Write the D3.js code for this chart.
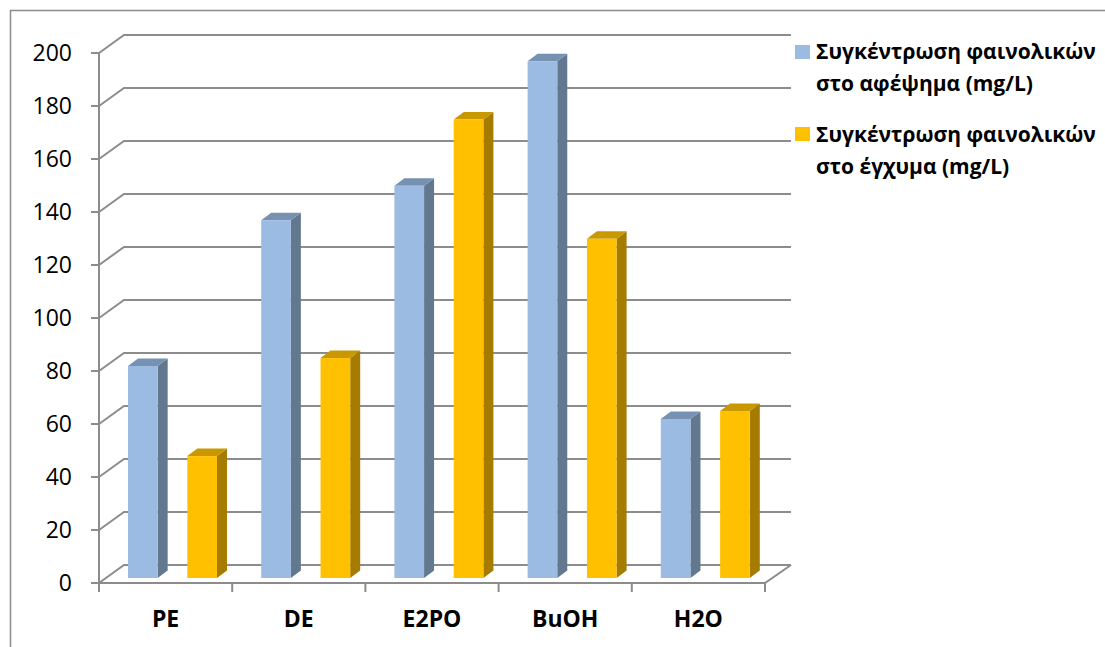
<!DOCTYPE html>
<html>
<head>
<meta charset="utf-8">
<script src="https://cdn.jsdelivr.net/npm/d3@7"></script>
<style>
  html, body { margin: 0; padding: 0; background: #fff; }
  svg { display: block; }
  text { font-family: "Open Sans", "Liberation Sans", sans-serif; fill: #000; }
</style>
</head>
<body>
<svg id="chart" width="1105" height="647"></svg>
<script>
// Phenolic concentration per extract (mg/L)
const categories = ["PE", "DE", "E2PO", "BuOH", "H2O"];
const seriesNames = [
  ["Συγκέντρωση φαινολικών", "στο αφέψημα (mg/L)"],
  ["Συγκέντρωση φαινολικών", "στο έγχυμα (mg/L)"]
];
const decoction = [80, 135, 148, 195, 60];
const infusion = [46, 83, 173, 128, 63];
const yTicks = [0, 20, 40, 60, 80, 100, 120, 140, 160, 180, 200];

const palette = [
  { front: "#9bbbe3", side: "#62788f", top: "#7791b3" },
  { front: "#ffc000", side: "#a67c00", top: "#c99800" }
];

const svg = d3.select("#chart");
const gridColor = "#8c8c8c";

// outer frame
svg.append("path")
  .attr("d", "M10.5,647 L10.5,10.5 L1105,10.5")
  .attr("fill", "none").attr("stroke", "#8c8c8c").attr("stroke-width", 1.5);

// plot geometry: front axis plane plus back wall offset
const x0 = 99, x1 = 765;
const wallDx = 25, wallDy = -18;
const y = d3.scaleLinear().domain([0, 200]).range([583, 53]);
const x = d3.scaleBand().domain(categories).range([x0, x1]);
const xs = d3.scaleBand().domain([0, 1]).range([22, 111]).paddingInner(0.5);

// bars sit part-way into the floor
const barShiftX = 7, barShiftY = -5;
const depthDx = 10, depthDy = -7.5;

const grid = svg.append("g");
yTicks.forEach(t => {
  const yy = y(t);
  grid.append("path")
    .attr("d", `M${x0},${yy} L${x0 + wallDx},${yy + wallDy} L${x1 + wallDx + 1},${yy + wallDy}`)
    .attr("fill", "none").attr("stroke", gridColor).attr("stroke-width", 2);
});
// floor front edge and right edge
grid.append("path")
  .attr("d", `M${x0},${y(0)} L${x1},${y(0)} L${x1 + wallDx + 1},${y(0) + wallDy}`)
  .attr("fill", "none").attr("stroke", gridColor).attr("stroke-width", 2);

// value axis
const axisG = svg.append("g");
axisG.append("line")
  .attr("x1", x0).attr("x2", x0).attr("y1", y(200)).attr("y2", y(0) + 1)
  .attr("stroke", gridColor).attr("stroke-width", 2);
yTicks.forEach(t => {
  axisG.append("line")
    .attr("x1", x0 - 8).attr("x2", x0).attr("y1", y(t)).attr("y2", y(t))
    .attr("stroke", gridColor).attr("stroke-width", 2);
  axisG.append("text")
    .attr("x", 72).attr("y", y(t)).attr("dy", "0.36em")
    .attr("text-anchor", "end")
    .style("font-size", "23px")
    .text(t);
});

// category axis ticks and labels
const catBounds = categories.map(c => x(c)).concat([x1]);
catBounds.forEach(b => {
  axisG.append("line")
    .attr("x1", b).attr("x2", b).attr("y1", y(0)).attr("y2", y(0) + 9)
    .attr("stroke", gridColor).attr("stroke-width", 2);
});
categories.forEach(c => {
  axisG.append("text")
    .attr("x", x(c) + x.bandwidth() / 2).attr("y", 627)
    .attr("text-anchor", "middle")
    .style("font-size", "23px").style("font-weight", "bold")
    .text(c);
});

// 3D bars
const bars = svg.append("g");
const seriesData = [decoction, infusion];
categories.forEach((c, i) => {
  seriesData.forEach((vals, s) => {
    const v = vals[i];
    const left = x(c) + xs(s) + barShiftX;
    const right = left + xs.bandwidth();
    const bottom = y(0) + barShiftY;
    const top = y(v) + barShiftY;
    const col = palette[s];
    const g = bars.append("g");
    g.append("path")
      .attr("d", `M${right},${bottom} L${right + depthDx},${bottom + depthDy} L${right + depthDx},${top + depthDy} L${right},${top} Z`)
      .attr("fill", col.side);
    g.append("path")
      .attr("d", `M${left},${top} L${left + depthDx},${top + depthDy} L${right + depthDx},${top + depthDy} L${right},${top} Z`)
      .attr("fill", col.top);
    g.append("rect")
      .attr("x", left).attr("y", top)
      .attr("width", right - left).attr("height", bottom - top)
      .attr("fill", col.front);
  });
});

// legend
const legend = svg.append("g");
const legendRows = [{ sq: 45, base: 59 }, { sq: 127, base: 141.5 }];
seriesNames.forEach((lines, s) => {
  const r = legendRows[s];
  legend.append("rect")
    .attr("x", 795).attr("y", r.sq).attr("width", 15).attr("height", 14)
    .attr("fill", palette[s].front);
  lines.forEach((ln, k) => {
    legend.append("text")
      .attr("x", 816).attr("y", r.base + k * 32)
      .style("font-size", "21px").style("font-weight", "bold")
      .text(ln);
  });
});
</script>
</body>
</html>
